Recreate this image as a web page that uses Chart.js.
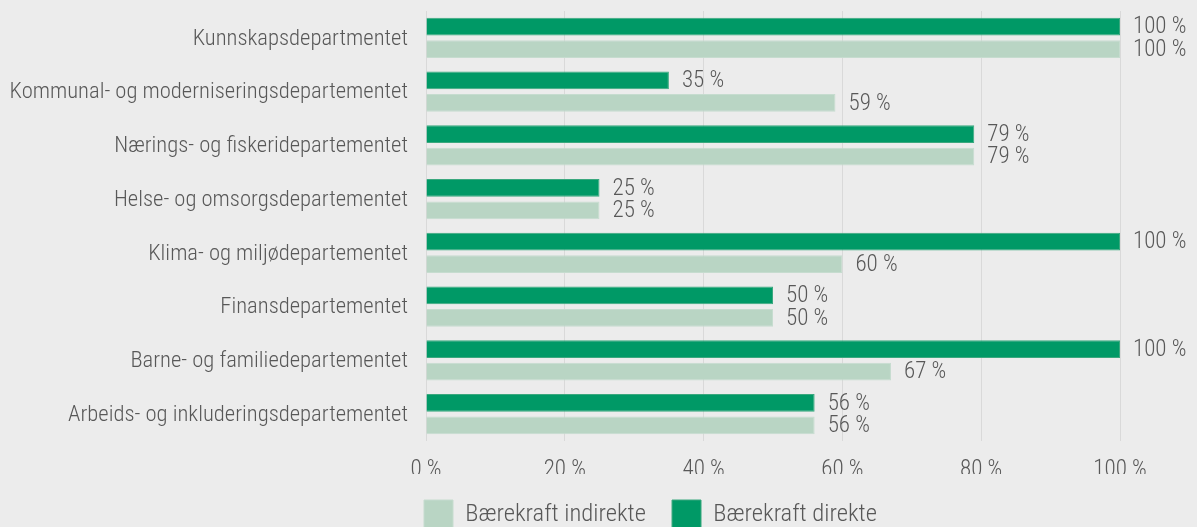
<!DOCTYPE html>
<html lang="no">
<head>
  <meta charset="UTF-8" />
  <title>Bærekraft per departement</title>
  <script src="https://cdn.jsdelivr.net/npm/chart.js"></script>
  <style>
    body {
      margin: 0;
      background-color: #ececec;
    }
    #wrap {
      width: 1197px;
      height: 527px;
      position: relative;
    }
  </style>
</head>
<body>
  <div id="wrap">
    <canvas id="chart"></canvas>
  </div>

  <script>
    const departments = [
      'Kunnskapsdepartmentet',
      'Kommunal- og moderniseringsdepartementet',
      'Nærings- og fiskeridepartementet',
      'Helse- og omsorgsdepartementet',
      'Klima- og miljødepartementet',
      'Finansdepartementet',
      'Barne- og familiedepartementet',
      'Arbeids- og inkluderingsdepartementet'
    ];
    const direkte = [100, 35, 79, 25, 100, 50, 100, 56];
    const indirekte = [100, 59, 79, 25, 60, 50, 67, 56];
    const xTicks = [0, 20, 40, 60, 80, 100];

    const FONT = '"Roboto Condensed", "DejaVu Sans Condensed", sans-serif';
    const TEXT = '#585858';

    // values at the end of each bar + department names left of the y axis
    const textPlugin = {
      id: 'textPlugin',
      afterDatasetsDraw(chart) {
        const ctx = chart.ctx;
        ctx.save();
        ctx.fillStyle = TEXT;
        ctx.textBaseline = 'middle';

        ctx.font = '300 23px ' + FONT;
        ctx.textAlign = 'left';
        chart.data.datasets.forEach((ds, i) => {
          chart.getDatasetMeta(i).data.forEach((bar, j) => {
            ctx.fillText(ds.data[j] + ' %', bar.x + 13, bar.y + 1);
          });
        });

        const yScale = chart.scales.y;
        ctx.font = '300 22.6px ' + FONT;
        ctx.textAlign = 'right';
        chart.data.labels.forEach((lab, i) => {
          ctx.fillText(lab, chart.chartArea.left - 18, yScale.getPixelForTick(i) + 1);
        });
        ctx.restore();
      }
    };

    new Chart(document.getElementById('chart'), {
      type: 'bar',
      data: {
        labels: departments,
        datasets: [
          {
            label: 'Bærekraft direkte',
            data: direkte,
            backgroundColor: '#009966',
            borderColor: '#3aa87e',
            borderWidth: 1,
            categoryPercentage: 0.84,
            barPercentage: 0.78
          },
          {
            label: 'Bærekraft indirekte',
            data: indirekte,
            backgroundColor: '#b9d5c4',
            borderColor: '#c6dccf',
            borderWidth: 1,
            categoryPercentage: 0.84,
            barPercentage: 0.78
          }
        ]
      },
      options: {
        indexAxis: 'y',
        responsive: true,
        maintainAspectRatio: false,
        animation: false,
        layout: {
          padding: { left: 398, right: 77, top: 11, bottom: -13 }
        },
        plugins: {
          tooltip: { enabled: false },
          legend: {
            position: 'bottom',
            align: 'start',
            reverse: true,
            labels: {
              boxWidth: 29,
              boxHeight: 30,
              padding: 26,
              color: TEXT,
              font: { family: FONT, size: 24.6, weight: '300' }
            }
          }
        },
        scales: {
          x: {
            min: 0,
            max: 100,
            afterBuildTicks(scale) {
              scale.ticks = xTicks.map(v => ({ value: v }));
            },
            afterFit(scale) { scale.height = 33; },
            grid: { color: '#d9d9d9', drawTicks: false },
            border: { display: false },
            ticks: {
              padding: 15,
              color: TEXT,
              font: { family: FONT, size: 23, weight: '300' },
              callback: v => v + ' %'
            }
          },
          y: {
            afterFit(scale) { scale.width = 28; },
            grid: { display: false },
            border: { display: false },
            ticks: { display: false }
          }
        }
      },
      plugins: [textPlugin]
    });
  </script>
</body>
</html>
